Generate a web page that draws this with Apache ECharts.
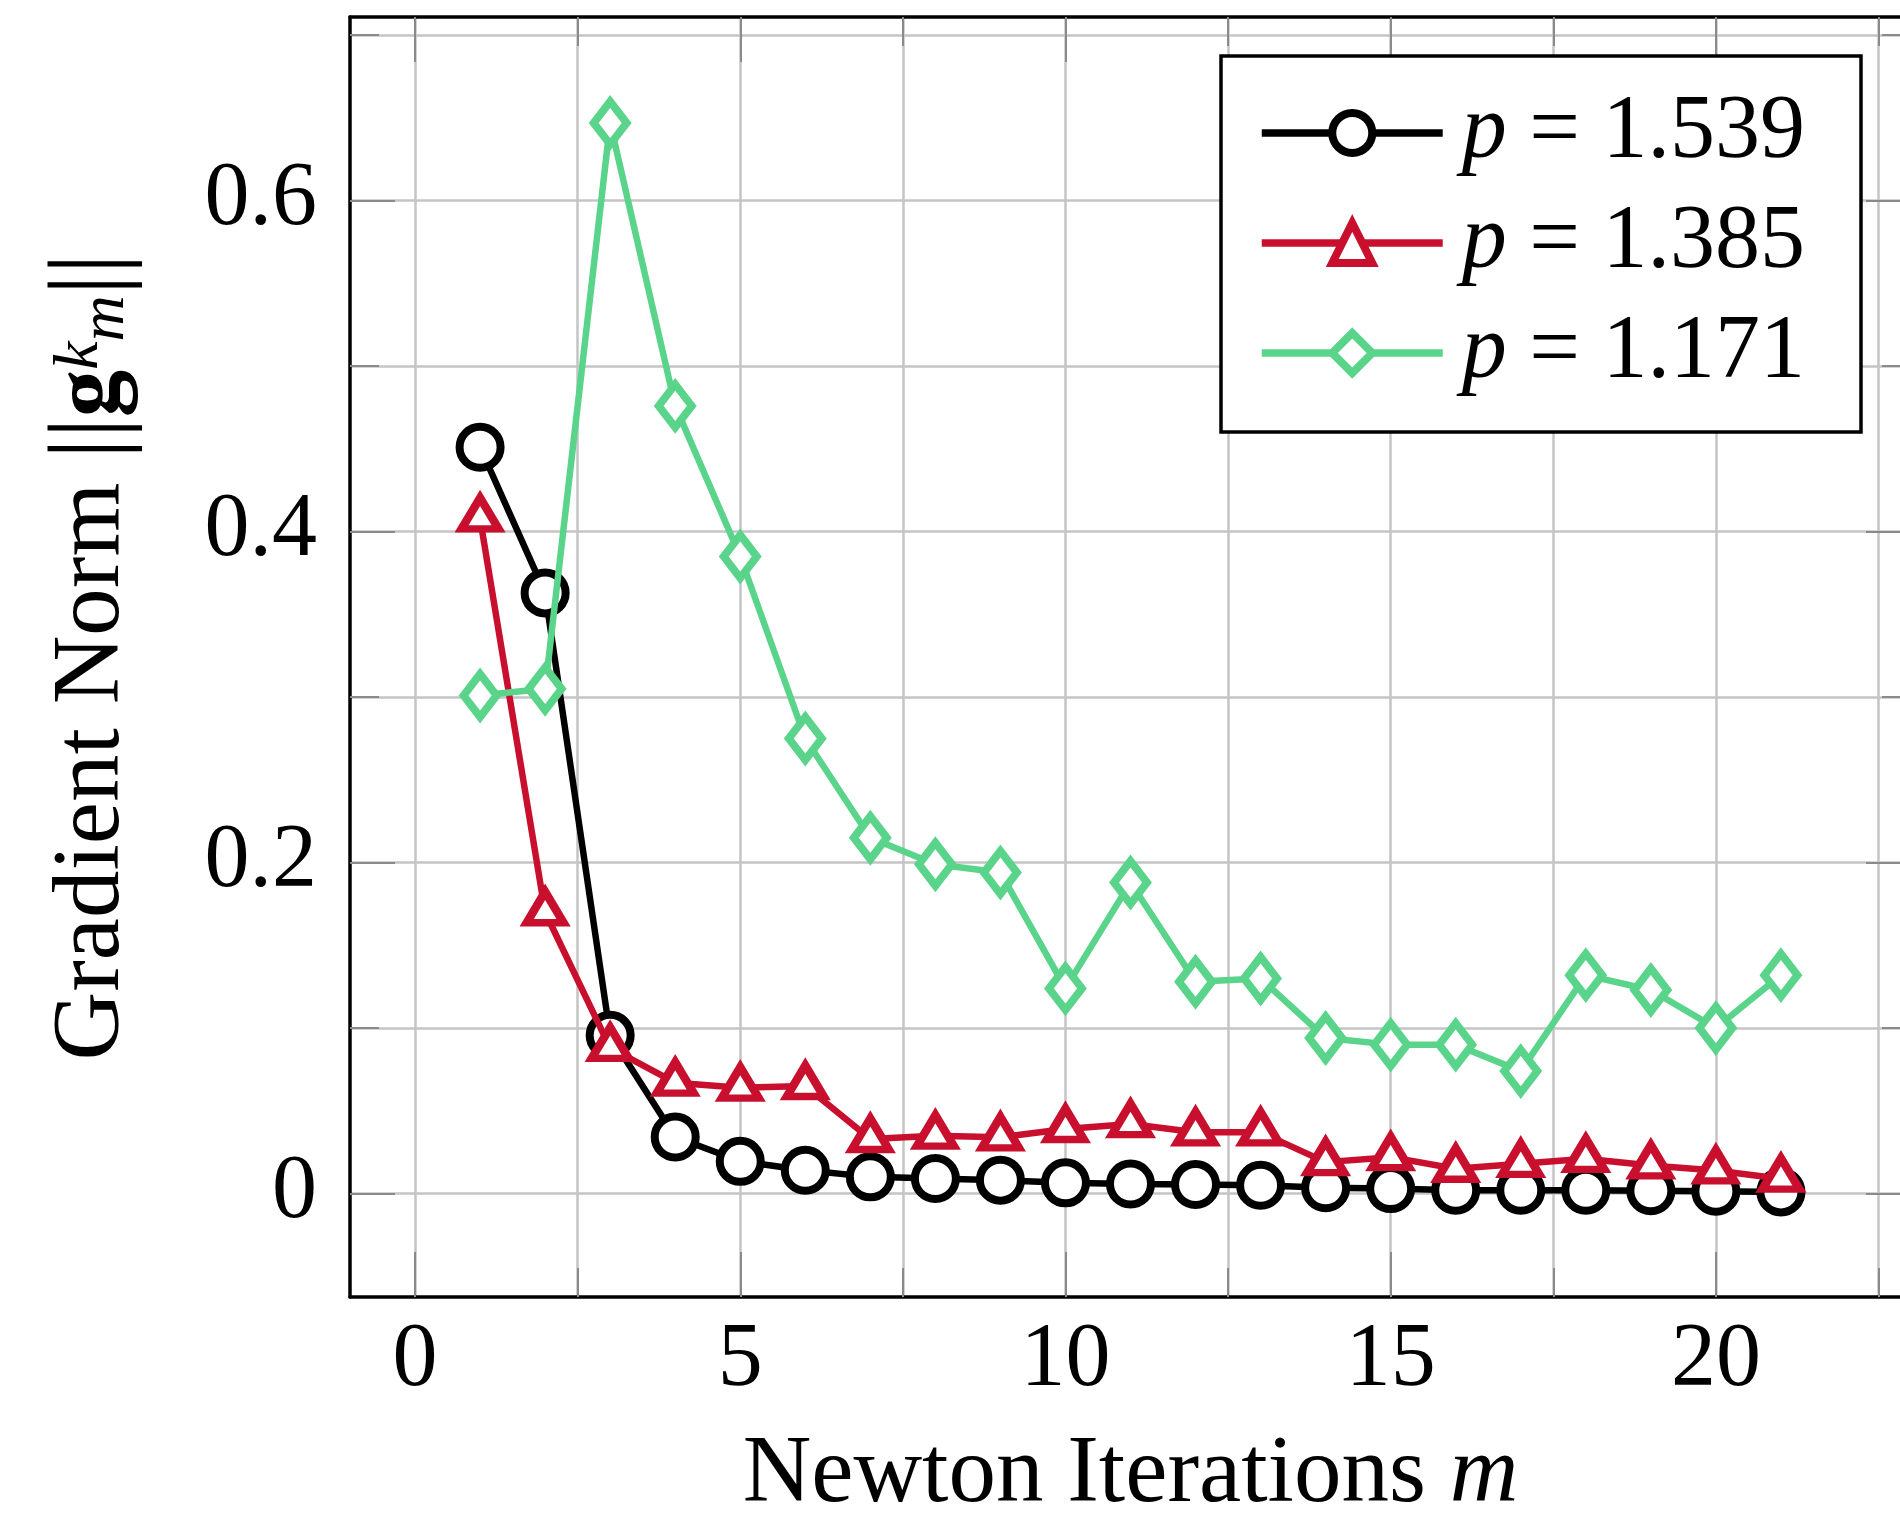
<!DOCTYPE html>
<html><head><meta charset="utf-8">
<script src="https://cdn.jsdelivr.net/npm/echarts@6/dist/echarts.min.js"></script>
<style>html,body{margin:0;padding:0;background:#fff}#c{width:1900px;height:1513px}</style>
</head><body><div id="c"></div>
<script>
// ---- data ----
const iterations = [1,2,3,4,5,6,7,8,9,10,11,12,13,14,15,16,17,18,19,20,21];
const pLabels = ['1.539', '1.385', '1.171'];
const normP1539 = [0.451,0.363,0.0956,0.0342,0.0195,0.0141,0.0101,0.0091,0.0081,0.0065,0.0058,0.0055,0.005,0.0035,0.003,0.002,0.002,0.002,0.0017,0.0014,0.001];
const normP1385 = [0.408,0.170,0.088,0.067,0.064,0.065,0.033,0.035,0.034,0.039,0.042,0.037,0.037,0.019,0.022,0.015,0.018,0.021,0.017,0.014,0.009];
const normP1171 = [0.301,0.305,0.647,0.476,0.385,0.275,0.215,0.199,0.194,0.124,0.188,0.128,0.130,0.094,0.090,0.090,0.074,0.132,0.123,0.100,0.132];
const xMajorTicks = [0, 5, 10, 15, 20];
const xMinorTicks = [2.5, 7.5, 12.5, 17.5, 22.5];
const yMajorTicks = [0, 0.2, 0.4, 0.6];
const yMinorTicks = [0.1, 0.3, 0.5, 0.7];

// ---- styling ----
const FONT = 'Liberation Serif';
const FS = 90;      // tick labels, legend
const TFS = 95;     // axis titles
const GRID_COLOR = '#c4c4c4';
const TICK_COLOR = '#8a8a8a';
const X_RANGE = [-1, 23];
const Y_RANGE = [-0.0625, 0.711];
const LW = 6.5;     // line width
const MW = 8;       // marker stroke width

function makeAxis(kind, position, ticks, len, frame, labels, name) {
  const ax = {
    type: 'value', position, gridIndex: 0,
    min: kind === 'x' ? X_RANGE[0] : Y_RANGE[0],
    max: kind === 'x' ? X_RANGE[1] : Y_RANGE[1],
    axisLine: { show: frame, onZero: false, lineStyle: { color: '#000', width: 3.5 } },
    axisTick: { show: true, inside: true, length: len, customValues: ticks,
                lineStyle: { color: TICK_COLOR, width: 2 } },
    splitLine: { show: position === 'bottom' || position === 'left',
                 lineStyle: { color: GRID_COLOR, width: 2.5 } },
    axisLabel: labels ? {
      show: true, customValues: labels, color: '#000',
      fontFamily: FONT, fontSize: FS,
      margin: kind === 'x' ? 19 : 33,
      formatter: v => (v === 0 ? '0' : (kind === 'y' ? v.toFixed(1) : String(v)))
    } : { show: false },
    z: 0
  };
  if (name) Object.assign(ax, name);
  return ax;
}

const xName = {
  name: 'Newton Iterations {i|m}', nameLocation: 'middle', nameGap: 134,
  nameTextStyle: { fontFamily: FONT, fontSize: TFS, color: '#000', lineHeight: 90,
    rich: { i: { fontFamily: FONT, fontSize: TFS, fontStyle: 'italic', color: '#000', lineHeight: 90 } } }
};
const yName = {
  name: 'Gradient Norm {bar|||}{g|g}{sup|k}{sub|m}{bar|||}', nameLocation: 'middle', nameGap: 212,
  nameTextStyle: { fontFamily: FONT, fontSize: TFS, color: '#000', lineHeight: 90,
    rich: {
      bar: { fontFamily: FONT, fontSize: 104, color: '#000', lineHeight: 90 },
      g: { fontFamily: FONT, fontSize: TFS, fontWeight: 'bold', color: '#000', lineHeight: 90 },
      sup: { fontFamily: FONT, fontSize: 64, fontStyle: 'italic', color: '#000', lineHeight: 64, verticalAlign: 'top' },
      sub: { fontFamily: FONT, fontSize: 64, fontStyle: 'italic', color: '#000', lineHeight: 64, verticalAlign: 'bottom' }
    } }
};

const colors = ['#000000', '#c8102e', '#5ad48a'];
const symbols = ['circle', 'triangle', 'diamond'];
const symbolSizes = [41, [37, 31], [33, 43]];
const symbolOffsets = [[0, 0], [0, -5], [0, 0]];
const seriesValues = [normP1539, normP1385, normP1171];

const series = seriesValues.map((vals, k) => ({
  name: 'p = ' + pLabels[k],
  type: 'line',
  xAxisIndex: 0, yAxisIndex: 0,
  data: iterations.map((m, i) => [m, vals[i]]),
  symbol: symbols[k],
  symbolSize: symbolSizes[k],
  symbolOffset: symbolOffsets[k],
  showAllSymbol: true,
  lineStyle: { color: colors[k], width: LW },
  itemStyle: { color: '#fff', borderColor: colors[k], borderWidth: MW },
  emphasis: { disabled: true },
  z: 3 + k
}));

const chart = echarts.init(document.getElementById('c'), null, { renderer: 'canvas' });
chart.setOption({
  animation: false,
  backgroundColor: '#fff',
  grid: { left: 350, top: 17, width: 1561, height: 1280, containLabel: false, outerBoundsMode: 'none' },
  xAxis: [
    makeAxis('x', 'bottom', xMajorTicks, 45, true, xMajorTicks, xName),
    makeAxis('x', 'bottom', xMinorTicks, 29, false, null),
    makeAxis('x', 'top', xMajorTicks, 45, true, null),
    makeAxis('x', 'top', xMinorTicks, 29, false, null)
  ],
  yAxis: [
    makeAxis('y', 'left', yMajorTicks, 45, true, yMajorTicks, yName),
    makeAxis('y', 'left', yMinorTicks, 29, false, null),
    makeAxis('y', 'right', yMajorTicks, 45, true, null),
    makeAxis('y', 'right', yMinorTicks, 29, false, null)
  ],
  legend: {
    orient: 'vertical', left: 1221, top: 56,
    padding: [32, 56, 34, 37],
    itemWidth: 181, itemHeight: 50, itemGap: 20,
    backgroundColor: '#fff', borderColor: '#000', borderWidth: 3.5, borderRadius: 0,
    selectedMode: false,
    lineStyle: { width: LW + 1 },
    itemStyle: { borderWidth: MW },
    formatter: name => '{s|}{i|p}' + name.slice(1),
    textStyle: { fontFamily: FONT, fontSize: FS, color: '#000', lineHeight: 90,
      rich: {
        s: { width: 14 },
        i: { fontFamily: FONT, fontSize: FS, fontStyle: 'italic', color: '#000', lineHeight: 90 }
      } },
    data: series.map(s => s.name)
  },
  series
});
</script></body></html>
